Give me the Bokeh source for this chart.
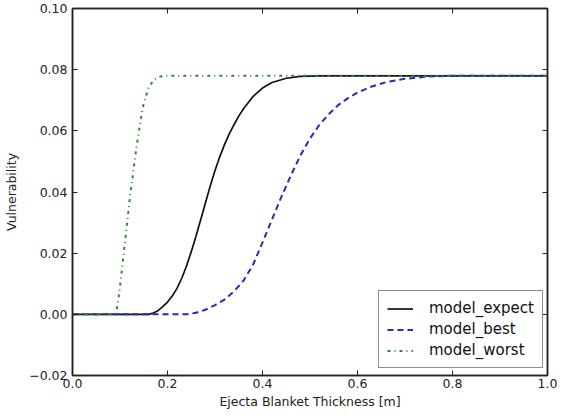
from bokeh.plotting import figure
from bokeh.models import Range1d, FixedTicker, CustomJSTickFormatter, LinearAxis, Legend, LegendItem
from bokeh.embed import file_html
from bokeh.resources import INLINE

# ---- data ----
expect_x = [0.0, 0.16, 0.17, 0.18, 0.19, 0.20, 0.21, 0.22, 0.23, 0.24, 0.25, 0.26, 0.27, 0.28,
            0.29, 0.30, 0.31, 0.32, 0.33, 0.34, 0.35, 0.36, 0.38, 0.40, 0.42, 0.45, 0.48, 0.52, 1.0]
expect_y = [0.0, 0.0, 0.0004, 0.0012, 0.0025, 0.004, 0.006, 0.0085, 0.0118, 0.0158, 0.0205, 0.0255,
            0.031, 0.0365, 0.042, 0.047, 0.0515, 0.0555, 0.059, 0.062, 0.0648, 0.0672, 0.0712, 0.074,
            0.0758, 0.0772, 0.0778, 0.078, 0.078]

best_x = [0.0, 0.24, 0.26, 0.28, 0.30, 0.32, 0.34, 0.36, 0.38, 0.40, 0.42, 0.44, 0.46, 0.48, 0.50,
          0.52, 0.54, 0.56, 0.58, 0.60, 0.63, 0.66, 0.70, 0.75, 0.80, 1.0]
best_y = [0.0, 0.0, 0.0005, 0.0015, 0.003, 0.0048, 0.0075, 0.011, 0.0162, 0.0235, 0.031, 0.0385,
          0.0455, 0.052, 0.0575, 0.062, 0.0655, 0.0685, 0.0707, 0.0725, 0.0745, 0.0759, 0.077,
          0.0778, 0.078, 0.078]

worst_x = [0.0, 0.09, 0.095, 0.10, 0.105, 0.11, 0.115, 0.12, 0.125, 0.13, 0.135, 0.14, 0.145,
           0.15, 0.16, 0.17, 0.18, 0.19, 0.20, 0.25, 1.0]
worst_y = [0.0, 0.0, 0.003, 0.009, 0.016, 0.023, 0.030, 0.037, 0.043, 0.049, 0.055, 0.060, 0.065,
           0.069, 0.074, 0.0765, 0.0775, 0.078, 0.078, 0.078, 0.078]

series_names = ["model_expect", "model_best", "model_worst"]

x_ticks = [0.0, 0.2, 0.4, 0.6, 0.8, 1.0]
x_tick_labels = ["0.0", "0.2", "0.4", "0.6", "0.8", "1.0"]
y_ticks = [-0.02, 0.0, 0.02, 0.04, 0.06, 0.08, 0.10]
y_tick_labels = ["\u22120.02", "0.00", "0.02", "0.04", "0.06", "0.08", "0.10"]

FONT = "DejaVu Sans"
AXC = "#222222"

p = figure(width=563, height=411, output_backend="svg", toolbar_location=None,
           x_range=Range1d(0, 1.0), y_range=Range1d(-0.02, 0.10),
           min_border_left=72, min_border_right=16, min_border_top=8, min_border_bottom=34)
p.background_fill_color = "white"
p.border_fill_color = "white"
p.outline_line_color = AXC
p.outline_line_width = 1.5
p.xgrid.visible = False
p.ygrid.visible = False

def fmt(ticks, labels):
    return CustomJSTickFormatter(args=dict(t=ticks, l=labels), code="""
        let best = 0, d = 1e9;
        for (let i = 0; i < t.length; i++) {
            const dd = Math.abs(t[i] - tick);
            if (dd < d) { d = dd; best = i; }
        }
        return l[best];
    """)

def style(ax, show_labels=True):
    ax.axis_line_color = AXC
    ax.axis_line_width = 1.5
    ax.major_tick_in = 5
    ax.major_tick_out = 0
    ax.major_tick_line_color = AXC
    ax.minor_tick_line_color = None
    ax.major_label_text_font = FONT
    ax.major_label_text_color = AXC
    if show_labels:
        ax.major_label_text_font_size = "12.5px"
    else:
        ax.formatter = CustomJSTickFormatter(code="return '';")
        ax.major_label_text_color = None
        ax.major_label_text_font_size = "1px"
        ax.major_label_standoff = 0

xa = p.xaxis[0]
xa.ticker = FixedTicker(ticks=x_ticks)
xa.formatter = fmt(x_ticks, x_tick_labels)
style(xa)
xa.major_label_standoff = 3
xa.axis_label = "Ejecta Blanket Thickness [m]"
xa.axis_label_text_font = FONT
xa.axis_label_text_font_size = "12.5px"
xa.axis_label_text_font_style = "normal"
xa.axis_label_text_color = AXC
xa.axis_label_standoff = 3

ya = p.yaxis[0]
ya.ticker = FixedTicker(ticks=y_ticks)
ya.formatter = fmt(y_ticks, y_tick_labels)
style(ya)
ya.major_label_standoff = 5
ya.axis_label = "Vulnerability"
ya.axis_label_text_font = FONT
ya.axis_label_text_font_size = "12.5px"
ya.axis_label_text_font_style = "normal"
ya.axis_label_text_color = AXC
ya.axis_label_standoff = 7

top = LinearAxis(ticker=FixedTicker(ticks=x_ticks))
style(top, False)
p.add_layout(top, "above")
right = LinearAxis(ticker=FixedTicker(ticks=y_ticks))
style(right, False)
p.add_layout(right, "right")

r1 = p.line(expect_x, expect_y, line_color="#111111", line_width=1.7)
r2 = p.line(best_x, best_y, line_color="#2a2ab4", line_width=2.0, line_dash="6 4")
r3 = p.line(worst_x, worst_y, line_color="#2f8a2f", line_width=2.0, line_dash="3 4 1 4")

legend = Legend(items=[LegendItem(label=series_names[0], renderers=[r1]),
                       LegendItem(label=series_names[1], renderers=[r2]),
                       LegendItem(label=series_names[2], renderers=[r3])],
                location=(306, 7))
legend.margin = 0
legend.padding = 8
legend.spacing = 3
legend.label_height = 17
legend.glyph_height = 17
legend.glyph_width = 26
legend.label_standoff = 16
legend.label_text_font = FONT
legend.label_text_font_size = "15px"
legend.label_text_color = "#111111"
legend.border_line_color = AXC
legend.border_line_width = 1.2
legend.background_fill_color = "white"
legend.background_fill_alpha = 1.0
p.add_layout(legend, "center")

open("out.html", "w").write(file_html(p, INLINE))
